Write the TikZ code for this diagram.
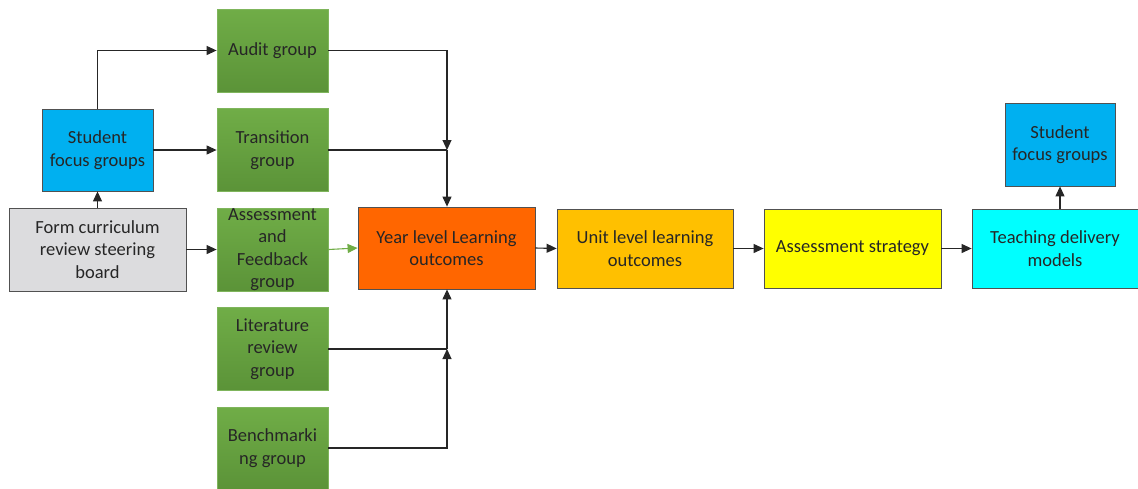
\documentclass[tikz,border=0pt]{standalone}
\usepackage{fontspec}
\setmainfont{Carlito}
\usetikzlibrary{arrows.meta}
\definecolor{txt}{HTML}{262626}
\definecolor{lin}{HTML}{262626}
\definecolor{sfg}{HTML}{00B0F0}
\definecolor{gray1}{HTML}{DCDCDE}
\definecolor{gTop}{HTML}{70AD47}
\definecolor{gBot}{HTML}{5B9338}
\definecolor{gEdge}{HTML}{7FB55C}
\definecolor{orng}{HTML}{FF6600}
\definecolor{gold}{HTML}{FFC000}
\definecolor{yell}{HTML}{FFFF00}
\definecolor{cyan1}{HTML}{00FFFF}
\definecolor{garrow}{HTML}{70AD47}
\begin{document}
\begin{tikzpicture}[x=1pt,y=-1pt,
  box/.style={draw=lin!80, line width=0.8pt, align=center, inner sep=0pt, text=txt,
    font=\fontsize{18.5}{22.5}\selectfont},
  grn/.style={box, draw=gEdge, top color=gTop, bottom color=gBot, minimum width=111pt, minimum height=83pt},
  conn/.style={draw=lin, line width=1.1pt},
  arr/.style={conn, -{Triangle[length=10pt,width=9pt]}},
  garr/.style={draw=garrow, line width=1.1pt, -{Triangle[length=10pt,width=9pt]}}]
\useasboundingbox (0,0) rectangle (1138,488);
% left column
\node[box, fill=sfg, minimum width=111pt, minimum height=82pt] (sfg1) at (97.5,150) {Student\\focus groups};
\node[box, fill=gray1, minimum width=177pt, minimum height=83pt] (board) at (97.5,249.5) {Form curriculum\\review steering\\board};
% green groups
\node[grn] (audit) at (272.5,50.5) {Audit group};
\node[grn] (trans) at (272.5,150) {Transition\\group};
\node[grn] (assf) at (272.5,249.5) {Assessment\\and\\Feedback\\group};
\node[grn] (lit) at (272.5,349) {Literature\\review\\group};
\node[grn, minimum height=82pt] (bench) at (272.5,448) {Benchmarki\\ng group};
% main chain
\node[box, fill=orng, minimum width=177pt, minimum height=82pt] (year) at (446.5,248) {Year level Learning\\outcomes};
\node[box, fill=gold, minimum width=176pt, minimum height=79pt] (unit) at (645,248.5) {Unit level learning\\outcomes};
\node[box, fill=yell, minimum width=177pt, minimum height=79pt] (astrat) at (852.5,248.5) {Assessment strategy};
\node[box, fill=cyan1, minimum width=166pt, minimum height=79pt] (teach) at (1055,248.5) {Teaching delivery\\models};
\node[box, fill=sfg, minimum width=110pt, minimum height=83pt] (sfg2) at (1060,144.5) {Student\\focus groups};
% coordinates
\coordinate (jtop) at (447,150);
\coordinate (jbot) at (447,349);
% connectors
\draw[arr] (board.north) -- (sfg1.south);
\draw[arr] (sfg1.north) |- (audit.west);
\draw[arr] (sfg1.east) -- (trans.west);
\draw[arr] (board.east) -- (assf.west);
\draw[garr] (assf.east) -- (year.west);
\draw[arr] (audit.east) -| (jtop);
\draw[conn] (trans.east) -- (jtop);
\draw[arr] (jtop) -- (year.north -| jtop);
\draw[conn] (lit.east) -- (jbot);
\draw[arr] (bench.east) -| (jbot);
\draw[arr] (jbot) -- (year.south -| jbot);
\draw[arr] (year.east) -- (unit.west);
\draw[arr] (unit.east) -- (astrat.west);
\draw[arr] (astrat.east) -- (teach.west);
\draw[arr] (teach.north -| sfg2.south) -- (sfg2.south);
\end{tikzpicture}
\end{document}
